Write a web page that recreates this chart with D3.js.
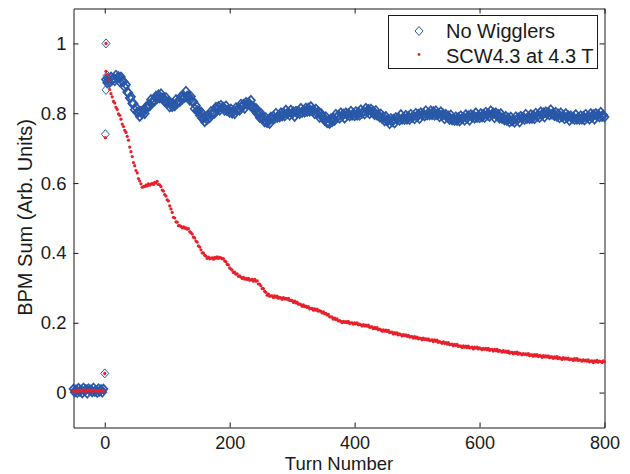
<!DOCTYPE html>
<html><head><meta charset="utf-8">
<script src="https://cdn.jsdelivr.net/npm/d3@7"></script>
<style>
body{margin:0;background:#fff}
svg{display:block}
text{font-family:"Liberation Sans",Arial,Helvetica,sans-serif;fill:#1a1a1a}
</style>
</head><body>
<svg id="chart" width="630" height="474"></svg>
<script>
// ---------------- data ----------------
const seriesNames = ["No Wigglers", "SCW4.3 at 4.3 T"];
const xTickValues = [0, 200, 400, 600, 800];
const yTickValues = [0, 0.2, 0.4, 0.6, 0.8, 1];
const yTickLabels = ["0", "0.2", "0.4", "0.6", "0.8", "1"];

// turns before injection (-50 .. -2, every 2nd turn)
const preTurns = d3.range(-50, 0, 2);
const preNoWigglers = [0.010,0.001,0.008,0.000,0.012,0.004,0.007,-0.001,0.013,0.005,0.009,-0.002,0.011,0.006,0.008,0.002,0.013,0.003,0.006,0.000,0.011,0.004,0.009,0.001,0.010];
const preSCW = [0.004,0.006,0.005,0.003,0.007,0.005,0.004,0.006,0.008,0.005,0.003,0.006,0.007,0.004,0.005,0.006,0.004,0.007,0.005,0.006,0.003,0.005,0.007,0.006,0.004];

// injection samples
const injTurnsNoWigglers = [0, 1, 2, 2, 4];
const injNoWigglers = [0.055, 0.740, 1.000, 0.867, 0.908];
const injTurnsSCW = [0, 1, 2];
const injSCW = [0.055, 0.730, 1.000];

// turns after injection (2 .. 800, every 2nd turn)
const mainTurns = d3.range(2, 801, 2);
const noWigglers = [
0.897,0.887,0.898,0.888,0.904,0.895,0.900,0.893,0.909,0.900,
0.905,0.890,0.904,0.892,0.891,0.875,0.882,0.861,0.858,0.844,
0.847,0.828,0.828,0.810,0.817,0.803,0.803,0.791,0.806,0.799,
0.808,0.799,0.818,0.816,0.824,0.821,0.839,0.830,0.837,0.835,
0.849,0.842,0.853,0.844,0.856,0.843,0.844,0.833,0.845,0.831,
0.834,0.818,0.829,0.819,0.826,0.821,0.839,0.829,0.836,0.833,
0.848,0.840,0.851,0.845,0.863,0.849,0.849,0.837,0.848,0.834,
0.833,0.813,0.822,0.808,0.806,0.794,0.804,0.786,0.786,0.776,
0.789,0.782,0.794,0.787,0.805,0.798,0.805,0.800,0.817,0.810,
0.819,0.809,0.823,0.815,0.817,0.808,0.821,0.807,0.810,0.802,
0.812,0.800,0.807,0.799,0.816,0.808,0.815,0.809,0.826,0.818,
0.826,0.814,0.831,0.825,0.831,0.824,0.837,0.819,0.818,0.808,
0.814,0.799,0.802,0.788,0.800,0.786,0.787,0.775,0.787,0.773,
0.782,0.771,0.789,0.784,0.791,0.785,0.800,0.788,0.793,0.789,
0.801,0.792,0.801,0.792,0.809,0.799,0.802,0.794,0.809,0.799,
0.804,0.791,0.806,0.800,0.806,0.799,0.814,0.802,0.808,0.803,
0.815,0.805,0.815,0.806,0.819,0.807,0.809,0.799,0.812,0.800,
0.804,0.788,0.800,0.789,0.790,0.779,0.790,0.773,0.774,0.771,
0.784,0.776,0.786,0.779,0.797,0.789,0.794,0.786,0.801,0.792,
0.798,0.786,0.801,0.795,0.799,0.792,0.806,0.794,0.799,0.793,
0.805,0.794,0.803,0.794,0.810,0.800,0.805,0.798,0.814,0.804,
0.811,0.799,0.812,0.803,0.806,0.796,0.808,0.794,0.796,0.789,
0.798,0.785,0.790,0.778,0.791,0.779,0.780,0.770,0.785,0.776,
0.783,0.772,0.788,0.782,0.787,0.780,0.796,0.783,0.788,0.782,
0.794,0.783,0.791,0.782,0.797,0.788,0.792,0.784,0.800,0.790,
0.797,0.785,0.801,0.794,0.799,0.792,0.807,0.795,0.800,0.795,
0.807,0.796,0.805,0.794,0.807,0.796,0.799,0.790,0.804,0.793,
0.798,0.784,0.797,0.789,0.792,0.782,0.795,0.781,0.784,0.779,
0.790,0.779,0.788,0.778,0.793,0.784,0.788,0.780,0.796,0.786,
0.793,0.780,0.796,0.789,0.794,0.786,0.801,0.788,0.793,0.787,
0.799,0.789,0.797,0.788,0.803,0.794,0.799,0.791,0.807,0.796,
0.801,0.787,0.801,0.793,0.796,0.786,0.799,0.785,0.788,0.781,
0.791,0.779,0.786,0.775,0.789,0.778,0.781,0.774,0.790,0.781,
0.787,0.775,0.791,0.785,0.789,0.782,0.797,0.785,0.789,0.784,
0.796,0.785,0.794,0.784,0.800,0.791,0.795,0.788,0.804,0.794,
0.801,0.789,0.804,0.798,0.803,0.795,0.810,0.797,0.800,0.793,
0.803,0.791,0.798,0.787,0.801,0.790,0.793,0.784,0.799,0.788,
0.793,0.779,0.793,0.785,0.789,0.782,0.796,0.783,0.788,0.782,
0.793,0.783,0.791,0.781,0.797,0.787,0.791,0.783,0.799,0.789,
0.796,0.783,0.799,0.792,0.796,0.789,0.803,0.791,0.795,0.789];
const scw = [
0.920,0.911,0.896,0.868,0.856,0.847,0.834,0.829,0.817,0.811,
0.798,0.794,0.783,0.769,0.762,0.751,0.745,0.734,0.723,0.703,
0.690,0.676,0.659,0.650,0.636,0.629,0.613,0.606,0.598,0.588,
0.590,0.590,0.594,0.592,0.598,0.594,0.597,0.599,0.596,0.602,
0.600,0.605,0.596,0.595,0.590,0.580,0.577,0.567,0.563,0.552,
0.549,0.535,0.526,0.516,0.502,0.500,0.489,0.488,0.478,0.478,
0.476,0.472,0.475,0.471,0.472,0.468,0.470,0.461,0.458,0.454,
0.445,0.443,0.434,0.431,0.420,0.417,0.409,0.400,0.400,0.393,
0.391,0.384,0.388,0.383,0.385,0.386,0.382,0.387,0.385,0.389,
0.384,0.387,0.386,0.383,0.384,0.377,0.375,0.367,0.366,0.357,
0.354,0.351,0.344,0.345,0.339,0.340,0.333,0.334,0.331,0.327,
0.330,0.325,0.327,0.324,0.327,0.322,0.323,0.324,0.319,0.324,
0.319,0.320,0.311,0.311,0.306,0.298,0.298,0.290,0.287,0.279,
0.282,0.276,0.277,0.277,0.272,0.277,0.273,0.276,0.270,0.273,
0.271,0.267,0.272,0.268,0.270,0.267,0.270,0.264,0.264,0.264,
0.258,0.262,0.257,0.259,0.253,0.254,0.252,0.247,0.251,0.246,
0.248,0.244,0.246,0.240,0.241,0.241,0.236,0.240,0.236,0.239,
0.233,0.235,0.233,0.228,0.231,0.226,0.227,0.222,0.224,0.217,
0.217,0.216,0.210,0.213,0.209,0.211,0.205,0.206,0.204,0.200,
0.204,0.201,0.203,0.200,0.204,0.198,0.200,0.200,0.196,0.200,
0.197,0.200,0.194,0.196,0.194,0.191,0.195,0.191,0.193,0.190,
0.193,0.187,0.188,0.188,0.183,0.187,0.183,0.186,0.180,0.182,
0.180,0.176,0.180,0.176,0.179,0.175,0.178,0.172,0.173,0.173,
0.168,0.172,0.168,0.171,0.165,0.168,0.166,0.162,0.166,0.163,
0.165,0.161,0.164,0.159,0.160,0.160,0.156,0.160,0.156,0.159,
0.154,0.156,0.155,0.151,0.156,0.152,0.154,0.151,0.154,0.149,
0.150,0.151,0.146,0.151,0.147,0.150,0.144,0.146,0.144,0.141,
0.145,0.141,0.143,0.139,0.143,0.137,0.138,0.139,0.134,0.138,
0.135,0.138,0.132,0.134,0.133,0.129,0.134,0.130,0.133,0.129,
0.133,0.128,0.129,0.130,0.125,0.130,0.127,0.130,0.125,0.128,
0.126,0.123,0.127,0.124,0.127,0.123,0.127,0.121,0.123,0.124,
0.119,0.124,0.120,0.124,0.118,0.121,0.119,0.116,0.120,0.116,
0.119,0.115,0.119,0.113,0.115,0.115,0.111,0.115,0.112,0.116,
0.110,0.113,0.111,0.108,0.112,0.109,0.111,0.108,0.112,0.106,
0.108,0.108,0.104,0.109,0.105,0.109,0.103,0.106,0.105,0.101,
0.106,0.102,0.105,0.102,0.105,0.100,0.102,0.102,0.098,0.102,
0.099,0.103,0.097,0.100,0.098,0.095,0.100,0.096,0.099,0.096,
0.099,0.094,0.096,0.096,0.092,0.097,0.093,0.097,0.092,0.094,
0.093,0.090,0.094,0.091,0.093,0.090,0.094,0.088,0.090,0.091,
0.086,0.091,0.088,0.092,0.087,0.090,0.089,0.086,0.091,0.088];

// ---------------- chart ----------------
const blue = "#2a58a8", red = "#e8202a", axisColor = "#1a1a1a";
const svg = d3.select("#chart");
const x = d3.scaleLinear().domain([-50, 800]).range([73.5, 604.5]);
const y = d3.scaleLinear().domain([-0.1, 1.1]).range([427.5, 8.5]);

const pts = (turns, vals) => turns.map((t, i) => ({t, v: vals[i]}));
const blueBand = pts(preTurns, preNoWigglers).concat(pts(mainTurns, noWigglers));
const blueInj = pts(injTurnsNoWigglers, injNoWigglers);
const redPts = pts(preTurns, preSCW)
  .concat(pts(injTurnsSCW, injSCW))
  .concat(pts(mainTurns, scw));

const diamond = "M0,-4.5L4,0L0,4.5L-4,0Z";

// axes
function styleAxis(g) {
  g.selectAll(".domain").attr("stroke", axisColor).attr("stroke-width", 1);
  g.selectAll(".tick line").attr("stroke", axisColor).attr("stroke-width", 1);
  g.selectAll(".tick text").attr("fill", axisColor)
    .style("font-family", '"Liberation Sans",Arial,sans-serif').style("font-size", "18.5px");
}
svg.append("g").attr("transform", `translate(0,${y.range()[0]})`)
  .call(d3.axisBottom(x).tickValues(xTickValues).tickSizeInner(-5).tickSizeOuter(0).tickPadding(9))
  .call(styleAxis)
  .call(g => g.selectAll(".tick text").style("font-size", "18px"));
svg.append("g").attr("transform", `translate(0,${y.range()[1]})`)
  .call(d3.axisTop(x).tickValues(xTickValues).tickSizeInner(-5).tickSizeOuter(0).tickFormat(""))
  .call(styleAxis);
svg.append("g").attr("transform", `translate(${x.range()[0]},0)`)
  .call(d3.axisLeft(y).tickValues(yTickValues).tickSizeInner(-5).tickSizeOuter(0).tickPadding(7)
    .tickFormat((d, i) => yTickLabels[i]))
  .call(styleAxis);
svg.append("g").attr("transform", `translate(${x.range()[1]},0)`)
  .call(d3.axisRight(y).tickValues(yTickValues).tickSizeInner(-5).tickSizeOuter(0).tickFormat(""))
  .call(styleAxis);

// data
svg.append("g").selectAll("path").data(blueBand).join("path")
  .attr("transform", d => `translate(${x(d.t)},${y(d.v)})`)
  .attr("d", diamond).attr("fill", "none").attr("stroke", blue).attr("stroke-width", 1.7);
svg.append("g").selectAll("path").data(blueInj).join("path")
  .attr("transform", d => `translate(${x(d.t)},${y(d.v)})`)
  .attr("d", diamond).attr("fill", "none").attr("stroke", blue).attr("stroke-width", 1);
svg.append("g").selectAll("circle").data(redPts).join("circle")
  .attr("cx", d => x(d.t)).attr("cy", d => y(d.v)).attr("r", 1.6).attr("fill", red);

// axis labels
svg.append("text").attr("x", 339).attr("y", 470).attr("text-anchor", "middle")
  .style("font-size", "18.5px").text("Turn Number");
svg.append("text").attr("transform", "translate(31.5,217.5) rotate(-90)").attr("text-anchor", "middle")
  .style("font-size", "20px").text("BPM Sum (Arb. Units)");

// legend
const lg = svg.append("g");
lg.append("rect").attr("x", 388.5).attr("y", 15.5).attr("width", 209).attr("height", 53)
  .attr("fill", "#fff").attr("stroke", axisColor).attr("stroke-width", 1);
lg.append("path").attr("transform", "translate(419,31)").attr("d", diamond)
  .attr("fill", "none").attr("stroke", blue).attr("stroke-width", 1);
lg.append("circle").attr("cx", 419).attr("cy", 54.5).attr("r", 1.4).attr("fill", red);
lg.append("text").attr("x", 446).attr("y", 38).style("font-size", "20px").text(seriesNames[0]);
lg.append("text").attr("x", 446).attr("y", 62.5).style("font-size", "20px").text(seriesNames[1]);
</script>
</body></html>
